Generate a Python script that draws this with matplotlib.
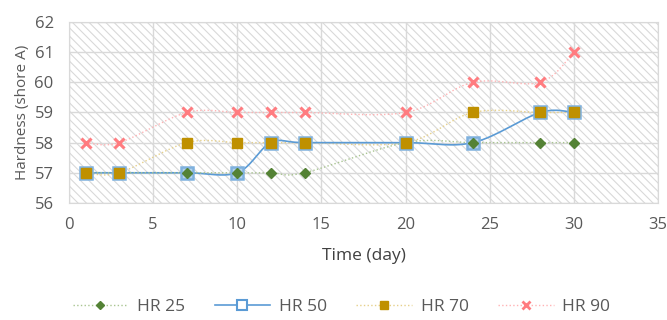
import numpy as np
import matplotlib
matplotlib.use("Agg")
import matplotlib.pyplot as plt
from matplotlib.patches import Rectangle
from matplotlib.lines import Line2D

plt.rcParams['font.family'] = ['Open Sans', 'DejaVu Sans']
plt.rcParams['hatch.color'] = '#cccccc'
plt.rcParams['hatch.linewidth'] = 0.8

days = [1, 3, 7, 10, 12, 14, 20, 24, 28, 30]
hr25 = [57, 57, 57, 57, 57, 57, 58, 58, 58, 58]
hr50 = [57, 57, 57, 57, 58, 58, 58, 58, 59, 59]
hr70 = [57, 57, 58, 58, 58, 58, 58, 59, 59, 59]
hr90 = [58, 58, 59, 59, 59, 59, 59, 60, 60, 61]
labels = ["HR 25", "HR 50", "HR 70", "HR 90"]


def smooth(x, y, n=30, t=1/6):
    """Cubic Bezier smoothing through the points (spreadsheet-style)."""
    x = np.asarray(x, float)
    y = np.asarray(y, float)
    px = np.concatenate([[x[0]], x, [x[-1]]])
    py = np.concatenate([[y[0]], y, [y[-1]]])
    xs, ys = [], []
    s = np.linspace(0, 1, n)
    for i in range(len(x) - 1):
        p0 = np.array([x[i], y[i]])
        p3 = np.array([x[i + 1], y[i + 1]])
        p1 = p0 + t * np.array([px[i + 2] - px[i], py[i + 2] - py[i]])
        p2 = p3 - t * np.array([px[i + 3] - px[i + 1], py[i + 3] - py[i + 1]])
        b = ((1 - s) ** 3)[:, None] * p0 + (3 * (1 - s) ** 2 * s)[:, None] * p1 \
            + (3 * (1 - s) * s ** 2)[:, None] * p2 + (s ** 3)[:, None] * p3
        xs.append(b[:, 0])
        ys.append(b[:, 1])
    return np.concatenate(xs), np.concatenate(ys)


fig = plt.figure(figsize=(6.67, 3.2), dpi=100)
ax = fig.add_axes([0.1034, 0.366, 0.8831, 0.565])
ax.set_xlim(0, 35)
ax.set_ylim(56, 62)

# hatched plot area
ax.add_patch(Rectangle((0, 0), 1, 1, transform=ax.transAxes, facecolor='white',
                       edgecolor='#d9d9d9', hatch='\\\\\\\\', linewidth=0.8, zorder=0))
ax.set_axisbelow(True)
ax.grid(True, color='#d9d9d9', linewidth=1.0, zorder=1)
for sp in ax.spines.values():
    sp.set_color('#d9d9d9')

line_styles = [
    dict(color='#a9c591', ls=':', lw=1.0),
    dict(color='#5b9bd5', ls='-', lw=1.2),
    dict(color='#e6d08a', ls=':', lw=1.0),
    dict(color='#ffb3b5', ls=':', lw=1.0),
]
marker_styles = [
    dict(marker='D', ms=5, mfc='#548235', mec='#548235'),
    dict(marker='s', ms=8.5, mfc='#b4d2ec', mec='#7fb1de', mew=1.8),
    dict(marker='s', ms=6.5, mfc='#bf9000', mec='#bf9000'),
    dict(marker='x', ms=7, mfc='#ff7c80', mec='#ff7c80', mew=2.2),
]
legend_markers = [
    dict(marker='D', ms=4.5, mfc='#548235', mec='#548235'),
    dict(marker='s', ms=6.5, mfc='white', mec='#5b9bd5', mew=1.5),
    dict(marker='s', ms=6, mfc='#bf9000', mec='#bf9000'),
    dict(marker='x', ms=6, mfc='#ff7c80', mec='#ff7c80', mew=2.0),
]
series = [hr25, hr50, hr70, hr90]
mz = [12, 10, 13, 14]

for k, yv in enumerate(series):
    sx, sy = smooth(days, yv)
    ax.plot(sx, sy, zorder=3 + (3 - k), **line_styles[k])
    ax.plot(days, yv, ls='none', zorder=mz[k], **marker_styles[k])

handles = [Line2D([], [], label=labels[k], **line_styles[k], **legend_markers[k])
           for k in range(4)]

ax.set_xticks(range(0, 36, 5))
ax.set_yticks(range(56, 63))
ax.tick_params(axis='both', length=0, labelsize=12, labelcolor='#595959')
ax.tick_params(axis='y', pad=11)
ax.tick_params(axis='x', pad=10)
ax.set_xlabel("Time (day)", fontsize=12.5, color='#404040', labelpad=11)
ax.set_ylabel("Hardness (shore A)", fontsize=11, color='#595959', labelpad=3)

leg = fig.legend(handles=handles, loc='center', bbox_to_anchor=(0.512, 0.04), ncol=4,
                 frameon=False, fontsize=12.5, handlelength=3.2, columnspacing=1.7,
                 handletextpad=0.5, borderpad=0.2)
for t in leg.get_texts():
    t.set_color('#595959')

fig.savefig("out.png", dpi=100)
